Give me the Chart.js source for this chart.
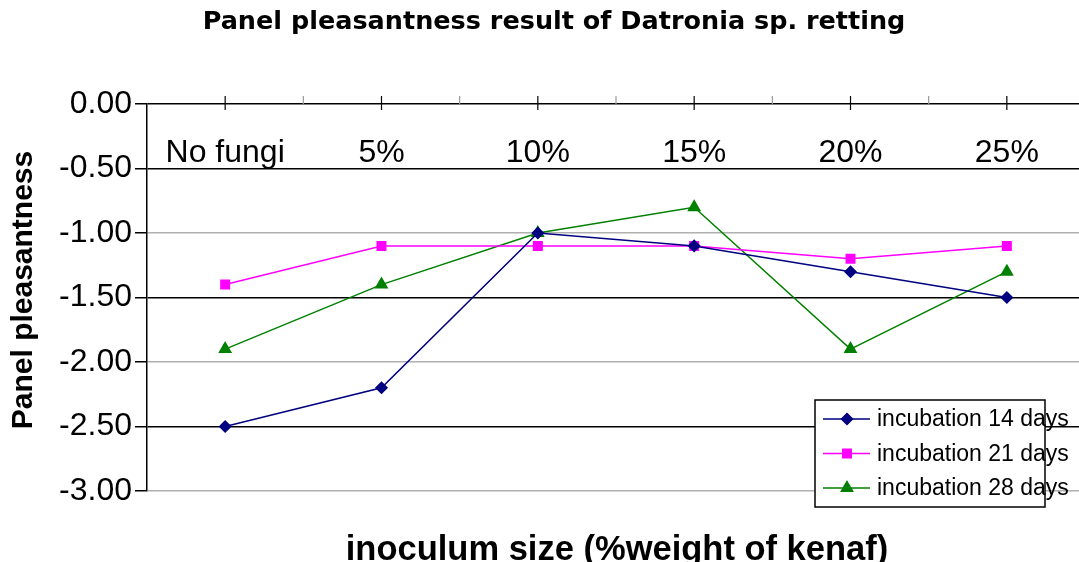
<!DOCTYPE html>
<html>
<head>
<meta charset="utf-8">
<script src="https://cdn.jsdelivr.net/npm/chart.js@4"></script>
<style>
  html, body { margin: 0; padding: 0; background: #fff; overflow: hidden; }
  canvas { display: block; }
</style>
</head>
<body>
<canvas id="myChart" width="1093" height="562"></canvas>
<script>
const categories = ['No fungi', '5%', '10%', '15%', '20%', '25%']
const days14 = [-2.5, -2.2, -1.0, -1.1, -1.3, -1.5]
const days21 = [-1.4, -1.1, -1.1, -1.1, -1.2, -1.1]
const days28 = [-1.9, -1.4, -1.0, -0.8, -1.9, -1.3]
const seriesNames = ['incubation 14 days', 'incubation 21 days', 'incubation 28 days']

const chartTitle = 'Panel pleasantness result of Datronia sp. retting'
const yTitle = 'Panel pleasantness'
const xTitle = 'inoculum size (%weight of kenaf)'

// draws titles, category labels inside plot, top ticks and the boxed legend
const decorations = {
  id: 'decorations',
  afterDraw(chart) {
    const ctx = chart.ctx
    const x = chart.scales.x, y = chart.scales.y
    const area = chart.chartArea
    ctx.save()
    ctx.fillStyle = '#000'
    ctx.textAlign = 'center'
    ctx.textBaseline = 'middle'
    ctx.font = 'bold 25.5px "DejaVu Sans"'
    ctx.fillText(chartTitle, 554, 22)

    // category labels under the top axis
    ctx.font = '32px "Liberation Sans"'
    categories.forEach((c, i) => {
      ctx.fillText(c, x.getPixelForValue(i), y.getPixelForValue(-0.38))
    })

    // ticks on top axis
    ctx.strokeStyle = '#000'
    ctx.lineWidth = 1.2
    categories.forEach((c, i) => {
      const px = x.getPixelForValue(i)
      ctx.beginPath(); ctx.moveTo(px, area.top - 8); ctx.lineTo(px, area.top + 6); ctx.stroke()
    })
    ctx.strokeStyle = '#999'
    const half = (x.getPixelForValue(1) - x.getPixelForValue(0)) / 2
    for (let i = 0; i < categories.length; i++) {
      const px = x.getPixelForValue(i) + half
      if (px >= 1079) continue
      ctx.beginPath(); ctx.moveTo(px, area.top - 8); ctx.lineTo(px, area.top); ctx.stroke()
    }

    // axis titles
    ctx.font = 'bold 30px "Liberation Sans"'
    ctx.save()
    ctx.translate(24, 290)
    ctx.rotate(-Math.PI / 2)
    ctx.fillText(yTitle, 0, 0)
    ctx.restore()
    ctx.font = 'bold 34.5px "Liberation Sans"'
    ctx.fillText(xTitle, 617, 550)

    // legend
    const lx = 815, ly = 400, lw = 230, lh = 107
    ctx.fillStyle = '#fff'
    ctx.fillRect(lx, ly, lw, lh)
    ctx.strokeStyle = '#000'
    ctx.lineWidth = 1.5
    ctx.strokeRect(lx, ly, lw, lh)
    ctx.textAlign = 'left'
    ctx.font = '23px "Liberation Sans"'
    chart.data.datasets.forEach((ds, i) => {
      const ry = ly + 19 + i * 34.5
      ctx.strokeStyle = ds.borderColor
      ctx.lineWidth = 1.5
      ctx.beginPath(); ctx.moveTo(lx + 8, ry); ctx.lineTo(lx + 55, ry); ctx.stroke()
      Chart.helpers.drawPoint(ctx, {
        pointStyle: ds.pointStyle, radius: ds.pointRadius, rotation: 0,
        borderWidth: 1
      }, lx + 32, ry)
      ctx.fillStyle = ds.pointBackgroundColor
      ctx.strokeStyle = ds.borderColor
      ctx.fill()
      ctx.fillStyle = '#000'
      ctx.fillText(ds.label, lx + 62, ry + 1)
    })
    ctx.restore()
  }
}

new Chart('myChart', {
  type: 'line',
  data: {
    labels: categories,
    datasets: [{
      label: seriesNames[0],
      data: days14,
      borderColor: '#000080',
      pointBackgroundColor: '#000080',
      pointStyle: 'rectRot',
      pointRadius: 5.5,
      borderWidth: 1.5,
      fill: false
    }, {
      label: seriesNames[1],
      data: days21,
      borderColor: '#ff00ff',
      pointBackgroundColor: '#ff00ff',
      pointStyle: 'rect',
      pointRadius: 6,
      borderWidth: 1.5,
      fill: false
    }, {
      label: seriesNames[2],
      data: days28,
      borderColor: '#008000',
      pointBackgroundColor: '#008000',
      pointStyle: 'triangle',
      pointRadius: 6.5,
      borderWidth: 1.5,
      fill: false
    }]
  },
  options: {
    responsive: false,
    animation: false,
    layout: { padding: { top: 104, right: 0, left: 0, bottom: 0 } },
    plugins: {
      legend: { display: false },
      title: { display: false },
      tooltip: { enabled: false }
    },
    scales: {
      x: {
        offset: true,
        ticks: { display: false },
        grid: { display: false },
        border: { display: false },
        afterFit(scale) { scale.height = 71 }
      },
      y: {
        min: -3,
        max: 0,
        ticks: {
          stepSize: 0.5,
          color: '#000',
          padding: 3,
          font: { family: 'Liberation Sans', size: 32 },
          callback: v => v.toFixed(2)
        },
        grid: {
          tickLength: 12,
          lineWidth: 1.5,
          color: c => {
            const v = Math.round(c.tick.value * 2)
            return (v === 0 || v % 2 !== 0) ? '#000' : '#b0b0b0'
          },
          tickColor: '#000'
        },
        border: { color: '#000', width: 1.5 },
        afterFit(scale) { scale.width = 147 }
      }
    }
  },
  plugins: [decorations]
})
</script>
</body>
</html>
